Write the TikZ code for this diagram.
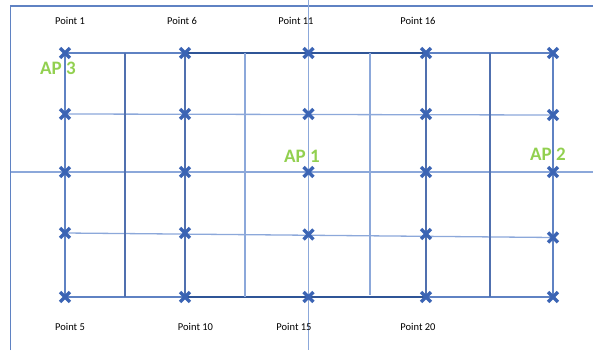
\documentclass[tikz,border=0pt]{standalone}
\usepackage{fontspec}
\setmainfont{Carlito}
\usetikzlibrary{shapes.misc}
\definecolor{gridlight}{RGB}{140,168,218}
\definecolor{gridmid}{RGB}{95,130,195}
\definecolor{griddark}{RGB}{80,112,175}
\definecolor{thickblue}{RGB}{47,85,151}
\definecolor{markblue}{RGB}{59,100,180}
\definecolor{apgreen}{RGB}{146,208,80}
\tikzset{
  lightline/.style={draw=gridlight,line width=1.3pt},
  midline/.style={draw=gridmid,line width=1.3pt},
  darkline/.style={draw=griddark,line width=1.3pt},
  thickline/.style={draw=thickblue,line width=2.2pt},
  xmark/.style={cross out,draw=markblue,line width=3.4pt,minimum size=6.5pt,inner sep=0pt},
  ptlabel/.style={font=\fontsize{10.5}{12}\selectfont,text=black,inner sep=0pt},
  aplabel/.style={font=\fontsize{19}{22}\selectfont\bfseries,text=apgreen,inner sep=0pt}
}
\begin{document}
\begin{tikzpicture}[x=1pt,y=-1pt]
\useasboundingbox (0,0) rectangle (593,350);
% border and axes
\coordinate (bl) at (10.5,350);
\coordinate (tl) at (10.5,6);
\coordinate (tr) at (593,6);
\coordinate (axl) at (10.5,172);
\coordinate (axr) at (593,172);
\coordinate (vat) at (308.5,0);
\coordinate (vab) at (308.5,350);
% grid points
\foreach \c/\x in {1/65,2/185,3/308.5,4/426,5/553}{
  \foreach \r/\y in {1/53,2/114,3/172,4/233,5/297}{
    \coordinate (g\c\r) at (\x,\y);
  }
}
\coordinate (g52) at (553,115);
\coordinate (g54) at (553,237.5);
\coordinate (g34) at (308.5,234.5);
\coordinate (g44) at (426,234);
% intermediate columns
\foreach \n/\x in {a/125,b/245,c/370,d/490}{
  \coordinate (\n t) at (\x,53);
  \coordinate (\n b) at (\x,297);
}
\coordinate (cb) at (370,295);
\draw[midline] (bl) -- (tl) -- (tr);
\draw[lightline] (axl) -- (axr);
\draw[lightline] (vat) -- (vab);
% horizontal grid lines
\draw[lightline] (g12) -- (g52);
\draw[lightline] (g14) -- (g54);
\draw[midline] (g11) -- (g21);
\draw[midline] (g41) -- (g51);
\draw[midline] (g15) -- (g25);
\draw[midline] (g45) -- (g55);
\draw[thickline] (g21) -- (g41);
\draw[thickline] (g25) -- (g45);
% vertical grid lines
\draw[midline] (g11) -- (g15);
\draw[darkline] (at) -- (ab);
\draw[darkline] (g21) -- (g25);
\draw[lightline] (bt) -- (bb);
\draw[lightline] (ct) -- (cb);
\draw[darkline] (g41) -- (g45);
\draw[darkline] (dt) -- (db);
\draw[midline] (g51) -- (g55);
% markers
\foreach \c in {1,...,5}{
  \foreach \r in {1,...,5}{
    \node[xmark] (m\c\r) at (g\c\r) {};
  }
}
% labels
\node[ptlabel] (l1) at (70,20.5) {Point 1};
\node[ptlabel] (l6) at (182,20.5) {Point 6};
\node[ptlabel] (l11) at (296,20.5) {Point 11};
\node[ptlabel] (l16) at (418,20.5) {Point 16};
\node[ptlabel] (l5) at (70,327) {Point 5};
\node[ptlabel] (l10) at (195.5,327) {Point 10};
\node[ptlabel] (l15) at (294,327) {Point 15};
\node[ptlabel] (l20) at (418,327) {Point 20};
\node[aplabel] (ap3) at (58,68.5) {AP 3};
\node[aplabel] (ap1) at (302,156.5) {AP 1};
\node[aplabel] (ap2) at (548,154.5) {AP 2};
\end{tikzpicture}
\end{document}
